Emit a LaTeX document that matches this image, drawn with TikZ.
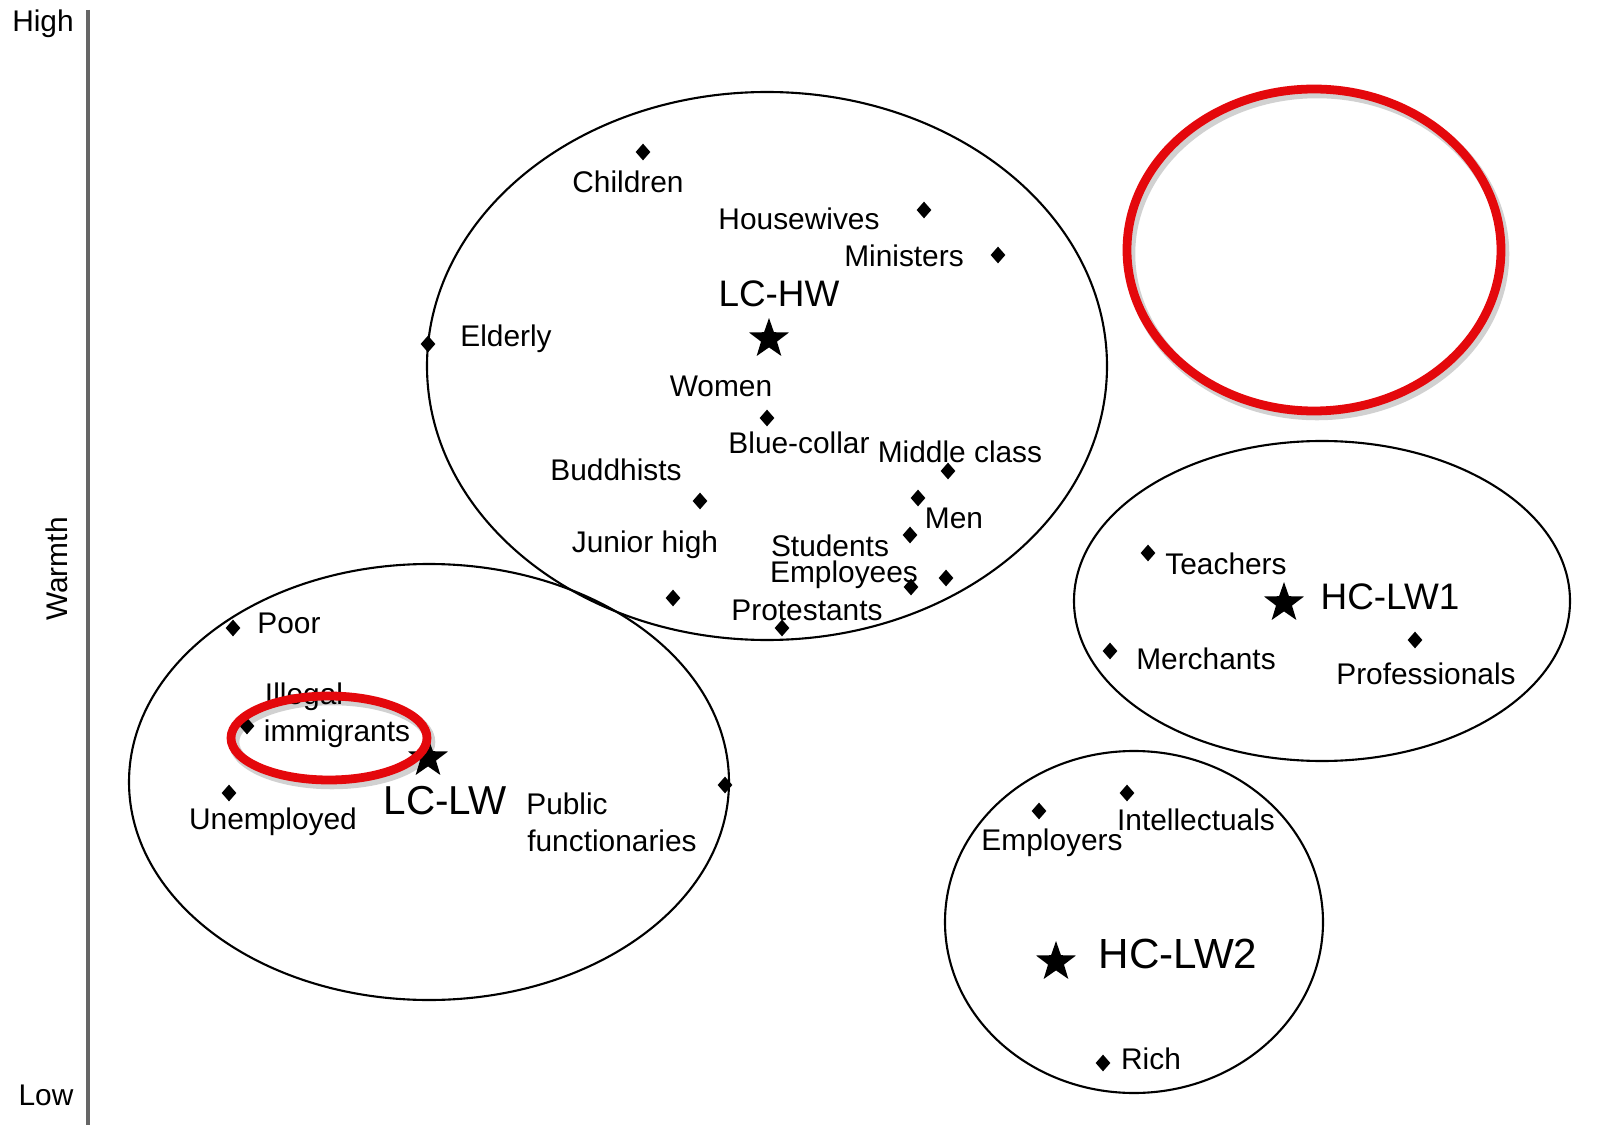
\documentclass[tikz,border=0pt]{standalone}
\usepackage{fontspec}
\setmainfont{Liberation Sans}
\usetikzlibrary{shapes.geometric}
\definecolor{markred}{RGB}{228,8,12}
\tikzset{
  grp/.style={line width=1.2pt},
  mark ring/.style={draw=markred,line width=5pt},
  ring shadow/.style={draw=black,opacity=0.18,line width=6pt},
  dot/.style={diamond,fill=black,inner sep=0pt,minimum width=0.3cm,minimum height=0.34cm},
  centre/.style={star,star points=5,star point ratio=2.5,fill=black,inner sep=0pt,minimum size=0.84cm},
  lbl/.style={inner sep=0pt,font=\fontsize{17}{20}\selectfont},
  biglbl/.style={inner sep=0pt,font=\fontsize{21}{24}\selectfont}
}
\begin{document}
\begin{tikzpicture}[x=0.02cm,y=-0.02cm]
        \useasboundingbox[fill=white] (0,0) rectangle (1614,1125);

        % Warmth axis
        \draw[line width=2pt,black!60] (88,10) -- (88,1125);
        \node[lbl] (high) at (43,24) {High};
        \node[lbl] (low) at (46,1095) {Low};
        \node[lbl,rotate=90] (warmth) at (57,569) {Warmth};

        % Cluster LC-HW
        \draw[grp] (767,366) ellipse (340 and 274);
        \node[centre] (lchw) at (769,339) {};
        \node[biglbl] (lchwlbl) at (779,294) {LC-HW};
        \node[dot] (children) at (643,152) {};
        \node[lbl] (childrenlbl) at (628,182) {Children};
        \node[dot] (housewives) at (924,210) {};
        \node[lbl] (housewiveslbl) at (799,219) {Housewives};
        \node[dot] (ministers) at (998,255) {};
        \node[lbl] (ministerslbl) at (904,256) {Ministers};
        \node[dot] (elderly) at (428,344) {};
        \node[lbl] (elderlylbl) at (506,339) {Elderly};
        \node[lbl] (womenlbl) at (721,386) {Women};
        \node[dot] (women) at (767,418) {};
        \node[lbl] (bluecollarlbl) at (799,443) {Blue-collar};
        \node[lbl] (middlelbl) at (960,452) {Middle class};
        \node[dot] (middle) at (948,471) {};
        \node[lbl] (buddhistslbl) at (616,470) {Buddhists};
        \node[dot] (buddhists) at (700,501) {};
        \node[dot] (men) at (918,498) {};
        \node[lbl] (menlbl) at (954,518) {Men};
        \node[lbl] (juniorlbl) at (645,545) {Junior high};
        \node[dot] (junior) at (673,598) {};
        \node[lbl] (studentslbl) at (830,546) {Students};
        \node[dot] (students) at (910,535) {};
        \node[lbl] (employeeslbl) at (844,575) {Employees};
        \node[dot] (employees) at (911,587) {};
        \node[dot] (bluecollar) at (946,578) {};
        \node[lbl] (protestantslbl) at (807,610) {Protestants};
        \node[dot] (protestants) at (782,628) {};

        % Cluster LC-LW
        \draw[grp] (429,782) ellipse (300 and 218);
        \node[centre] (lclw) at (428,758) {};
        \node[biglbl,font=\fontsize{23}{26}\selectfont] (lclwlbl) at (445,801) {LC-LW};
        \node[dot] (poor) at (233,628) {};
        \node[lbl] (poorlbl) at (289,623) {Poor};
        \node[dot] (illegal) at (247,726) {};
        \node[lbl] (illegallbl) at (304,697) {Illegal};
        \node[lbl] (immigrantslbl) at (337,734) {immigrants};
        \node[dot] (unemployed) at (229,793) {};
        \node[lbl] (unemployedlbl) at (273,822) {Unemployed};
        \node[dot] (public) at (725,785) {};
        \node[lbl] (publiclbl) at (567,804) {Public};
        \node[lbl] (functlbl) at (612,841) {functionaries};

        % Cluster HC-LW1
        \draw[grp] (1322,601) ellipse (248 and 160);
        \node[centre] (hclwa) at (1284,603) {};
        \node[biglbl] (hclwalbl) at (1390,597) {HC-LW1};
        \node[dot] (teachers) at (1148,553) {};
        \node[lbl] (teacherslbl) at (1226,564) {Teachers};
        \node[dot] (merchants) at (1110,651) {};
        \node[lbl] (merchantslbl) at (1206,659) {Merchants};
        \node[dot] (professionals) at (1415,640) {};
        \node[lbl] (professionalslbl) at (1426,674) {Professionals};

        % Cluster HC-LW2
        \draw[grp] (1134,922) ellipse (189 and 171);
        \node[centre] (hclwb) at (1056,962) {};
        \node[biglbl,font=\fontsize{24}{27}\selectfont] (hclwblbl) at (1178,954) {HC-LW2};
        \node[dot] (employers) at (1039,811) {};
        \node[lbl] (employerslbl) at (1052,843) {Employers};
        \node[dot] (intellectuals) at (1127,793) {};
        \node[lbl] (intellectualslbl) at (1196,820) {Intellectuals};
        \node[dot] (rich) at (1103,1063) {};
        \node[lbl] (richlbl) at (1151,1059) {Rich};

        % Red highlight rings
        \draw[ring shadow] (1317,254) ellipse (187 and 161);
        \draw[mark ring] (1314,250) ellipse (187 and 161);
        \draw[ring shadow] (332,742) ellipse (98 and 42);
        \draw[mark ring] (329,738) ellipse (98 and 42);
    \end{tikzpicture}
\end{document}
